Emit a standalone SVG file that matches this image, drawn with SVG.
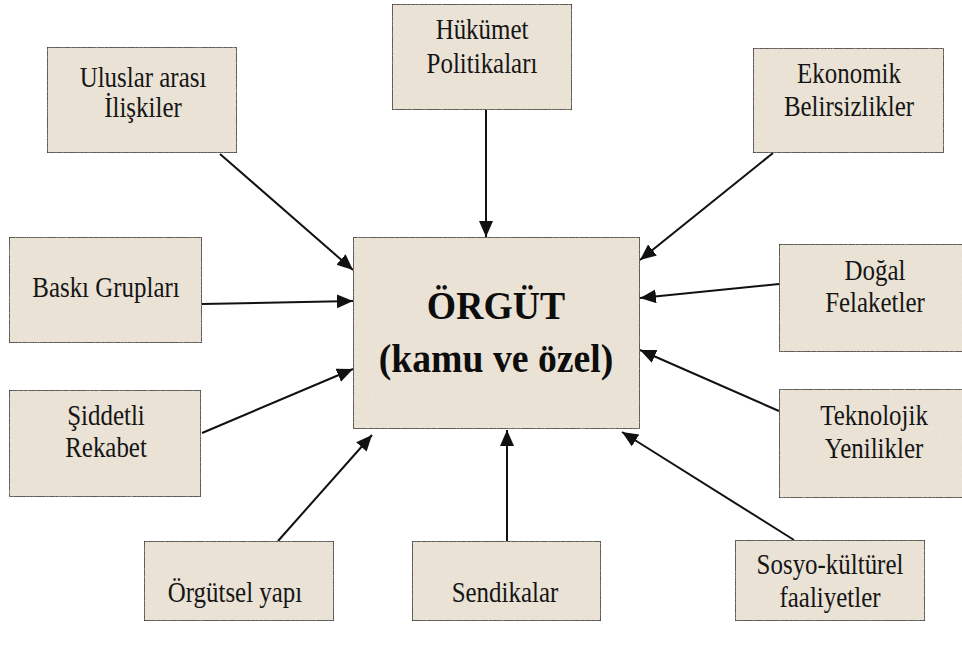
<svg xmlns="http://www.w3.org/2000/svg" width="962" height="647" viewBox="0 0 962 647">
  <style>
    .box { fill: #ebe3d6; stroke: #3a3a3a; stroke-width: 1.6; filter: url(#paper); }
    .lbl { font-family: "Liberation Serif", "Times New Roman", serif; font-size: 29px; fill: #151515; text-anchor: middle;
           transform-box: fill-box; transform-origin: center; transform: scaleX(0.86); }
    .main { font-family: "Liberation Serif", "Times New Roman", serif; font-size: 41px; font-weight: bold; fill: #0d0d0d; text-anchor: middle;
            transform-box: fill-box; transform-origin: center; transform: scaleX(0.92); }
    .link { stroke: #111; stroke-width: 2; fill: none; marker-end: url(#head); }
  </style>
  <defs>
    <marker id="head" markerUnits="userSpaceOnUse" markerWidth="17" markerHeight="15" refX="16" refY="7" orient="auto">
      <path d="M0,0 L16,7 L0,14 Z" fill="#111"/>
    </marker>
    <!-- faint speckled paper grain inside the boxes -->
    <filter id="paper" x="0" y="0" width="100%" height="100%">
      <feTurbulence type="fractalNoise" baseFrequency="0.85" numOctaves="2" seed="7" result="noise"/>
      <feColorMatrix in="noise" type="matrix"
        values="0 0 0 0 0.70  0 0 0 0 0.66  0 0 0 0 0.58  0 0 0 1.1 -0.56" result="spots"/>
      <feComposite in="spots" in2="SourceGraphic" operator="in" result="grain"/>
      <feMerge><feMergeNode in="SourceGraphic"/><feMergeNode in="grain"/></feMerge>
    </filter>
  </defs>

  <rect width="962" height="647" fill="#ffffff"/>

  <g id="connectors">
    <line class="link" x1="220" y1="154" x2="353" y2="270"/>
    <line class="link" x1="486" y1="110" x2="486" y2="237"/>
    <line class="link" x1="773" y1="153" x2="640" y2="260"/>
    <line class="link" x1="202" y1="304" x2="353" y2="301"/>
    <line class="link" x1="779" y1="284" x2="640" y2="298"/>
    <line class="link" x1="202" y1="433" x2="353" y2="369"/>
    <line class="link" x1="779" y1="411" x2="640" y2="350"/>
    <line class="link" x1="278" y1="541" x2="372" y2="435"/>
    <line class="link" x1="507" y1="541" x2="507" y2="430"/>
    <line class="link" x1="794" y1="540" x2="622" y2="432"/>
  </g>

  <g id="orgut">
    <rect class="box" x="353" y="237" width="287" height="192"/>
    <text class="main" x="496" y="319">ÖRGÜT</text>
    <text class="main" x="496" y="372">(kamu ve özel)</text>
  </g>

  <g id="uluslararasi">
    <rect class="box" x="47" y="47" width="190" height="106"/>
    <text class="lbl" x="143" y="87">Uluslar arası</text>
    <text class="lbl" x="143" y="117">İlişkiler</text>
  </g>

  <g id="hukumet">
    <rect class="box" x="392" y="4" width="180" height="106"/>
    <text class="lbl" x="482" y="39">Hükümet</text>
    <text class="lbl" x="482" y="73">Politikaları</text>
  </g>

  <g id="ekonomik">
    <rect class="box" x="753" y="48" width="191" height="105"/>
    <text class="lbl" x="849" y="83">Ekonomik</text>
    <text class="lbl" x="849" y="116">Belirsizlikler</text>
  </g>

  <g id="baski">
    <rect class="box" x="9" y="237" width="193" height="106"/>
    <text class="lbl" x="106" y="297">Baskı Grupları</text>
  </g>

  <g id="dogal">
    <rect class="box" x="779" y="244" width="200" height="108"/>
    <text class="lbl" x="875" y="280">Doğal</text>
    <text class="lbl" x="875" y="312">Felaketler</text>
  </g>

  <g id="siddetli">
    <rect class="box" x="9" y="390" width="192" height="107"/>
    <text class="lbl" x="106" y="425">Şiddetli</text>
    <text class="lbl" x="106" y="457">Rekabet</text>
  </g>

  <g id="teknolojik">
    <rect class="box" x="779" y="389" width="200" height="109"/>
    <text class="lbl" x="874" y="425">Teknolojik</text>
    <text class="lbl" x="874" y="458">Yenilikler</text>
  </g>

  <g id="orgutsel">
    <rect class="box" x="144" y="541" width="190" height="80"/>
    <text class="lbl" x="235" y="602">Örgütsel yapı</text>
  </g>

  <g id="sendikalar">
    <rect class="box" x="412" y="541" width="189" height="80"/>
    <text class="lbl" x="505" y="602">Sendikalar</text>
  </g>

  <g id="sosyokulturel">
    <rect class="box" x="735" y="540" width="190" height="81"/>
    <text class="lbl" x="830" y="574">Sosyo-kültürel</text>
    <text class="lbl" x="830" y="607">faaliyetler</text>
  </g>
</svg>
